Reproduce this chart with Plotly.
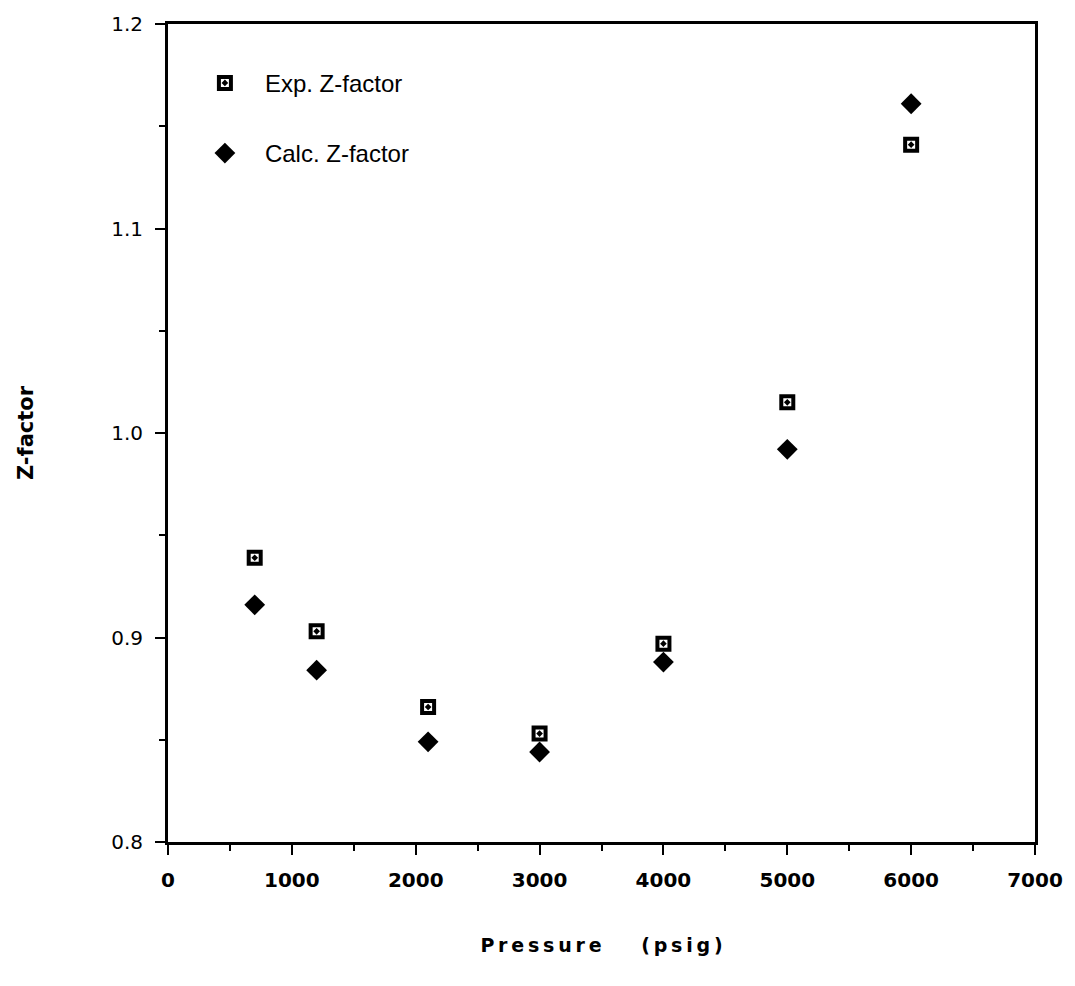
import plotly.graph_objects as go

pressure = [700, 1200, 2100, 3000, 4000, 5000, 6000]
exp_z = [0.939, 0.903, 0.866, 0.853, 0.897, 1.015, 1.141]
calc_z = [0.916, 0.884, 0.849, 0.844, 0.888, 0.992, 1.161]

sans = "Liberation Sans, Arial, sans-serif"
dv = "DejaVu Sans, sans-serif"
ts = "\u2009"

fig = go.Figure()
fig.add_trace(go.Scatter(
    x=pressure, y=exp_z, mode="markers", name="Exp. Z-factor",
    legendgroup="a",
    marker=dict(symbol="square-open-dot", size=12, color="black",
                line=dict(width=4, color="black")),
))
fig.add_trace(go.Scatter(
    x=pressure, y=calc_z, mode="markers", name="Calc. Z-factor",
    legendgroup="b",
    marker=dict(symbol="diamond", size=16, color="black",
                line=dict(width=0)),
))

axis_common = dict(
    showline=True, linecolor="black", linewidth=3, mirror=True,
    ticks="outside", ticklen=10, tickwidth=2, tickcolor="black",
    showgrid=False, zeroline=False,
)

x_title = "<b>" + ts.join("Pressure") + "      " + ts.join("(psig)") + "</b>"

fig.update_layout(
    width=1075, height=986,
    paper_bgcolor="white", plot_bgcolor="white",
    margin=dict(l=168, r=37, t=16, b=144),
    showlegend=True,
    legend=dict(x=0.0195, y=0.955, xanchor="left", yanchor="top",
                font=dict(family=sans, size=24, color="black"),
                itemwidth=70,
                tracegroupgap=36, bgcolor="rgba(0,0,0,0)"),
    xaxis=dict(
        range=[0, 7000], tickvals=[0, 1000, 2000, 3000, 4000, 5000, 6000, 7000],
        minor=dict(ticks="outside", ticklen=6, tickwidth=2, tickcolor="black", dtick=500),
        ticklabelstandoff=8,
        tickfont=dict(family=dv, size=20, color="black", weight="bold"),
        title=dict(text=x_title,
                   font=dict(family=dv, size=19, color="black"), standoff=48),
        **axis_common,
    ),
    yaxis=dict(
        range=[0.8, 1.2], tickvals=[0.8, 0.9, 1.0, 1.1, 1.2],
        ticktext=["0.8", "0.9", "1.0", "1.1", "1.2"],
        minor=dict(ticks="outside", ticklen=6, tickwidth=2, tickcolor="black", dtick=0.05),
        ticklabelstandoff=8,
        tickfont=dict(family=dv, size=20, color="black"),
        title=dict(text="<b>Z-factor</b>",
                   font=dict(family=dv, size=21, color="black"), standoff=72),
        **axis_common,
    ),
)

fig.write_html("out.html")
